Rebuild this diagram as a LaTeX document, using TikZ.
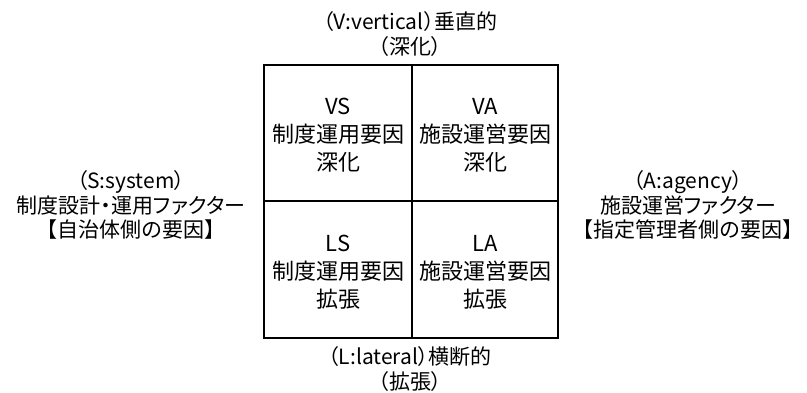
\documentclass[tikz,border=0pt]{standalone}
\usepackage{fontspec}
\setmainfont[RawFeature=+palt]{Noto Sans CJK JP}
\newfontfamily\fullw{Noto Sans CJK JP}
\newcommand{\lbr}{{\fullw 【}}
\newcommand{\rbr}{{\fullw 】}}
\begin{document}
\begin{tikzpicture}[x=1pt,y=-1pt,
  lbl/.style={align=center,inner sep=0pt,font=\fontsize{21}{24.5}\selectfont},
  cell/.style={align=center,inner sep=0pt,font=\fontsize{22}{28}\selectfont},
  gridline/.style={line width=1.5pt,black}]
\useasboundingbox (0,0) rectangle (807,392);
\coordinate (tl) at (264,65);
\coordinate (br) at (558,338);
\coordinate (tm) at (412,65);
\coordinate (bm) at (412,338);
\coordinate (ml) at (264,201);
\coordinate (mr) at (558,201);
\draw[gridline] (tl) rectangle (br);
\draw[gridline] (tm) -- (bm);
\draw[gridline] (ml) -- (mr);
\node[cell] (vs) at (338,135) {VS\\制度運用要因\\深化};
\node[cell] (va) at (485,135) {VA\\施設運営要因\\深化};
\node[cell] (ls) at (338,272) {LS\\制度運用要因\\拡張};
\node[cell] (la) at (485,272) {LA\\施設運営要因\\拡張};
\node[lbl] (top) at (410,34) {（V:vertical）垂直的\\（深化）};
\node[lbl] (bot) at (410,369) {（L:lateral）横断的\\（拡張）};
\node[lbl] (left) at (131,205) {（S:system）\\制度設計・運用ファクター\\\lbr 自治体側の要因\rbr};
\node[lbl] (right) at (688,205) {（A:agency）\\施設運営ファクター\\\lbr 指定管理者側の要因\rbr};
\end{tikzpicture}
\end{document}
